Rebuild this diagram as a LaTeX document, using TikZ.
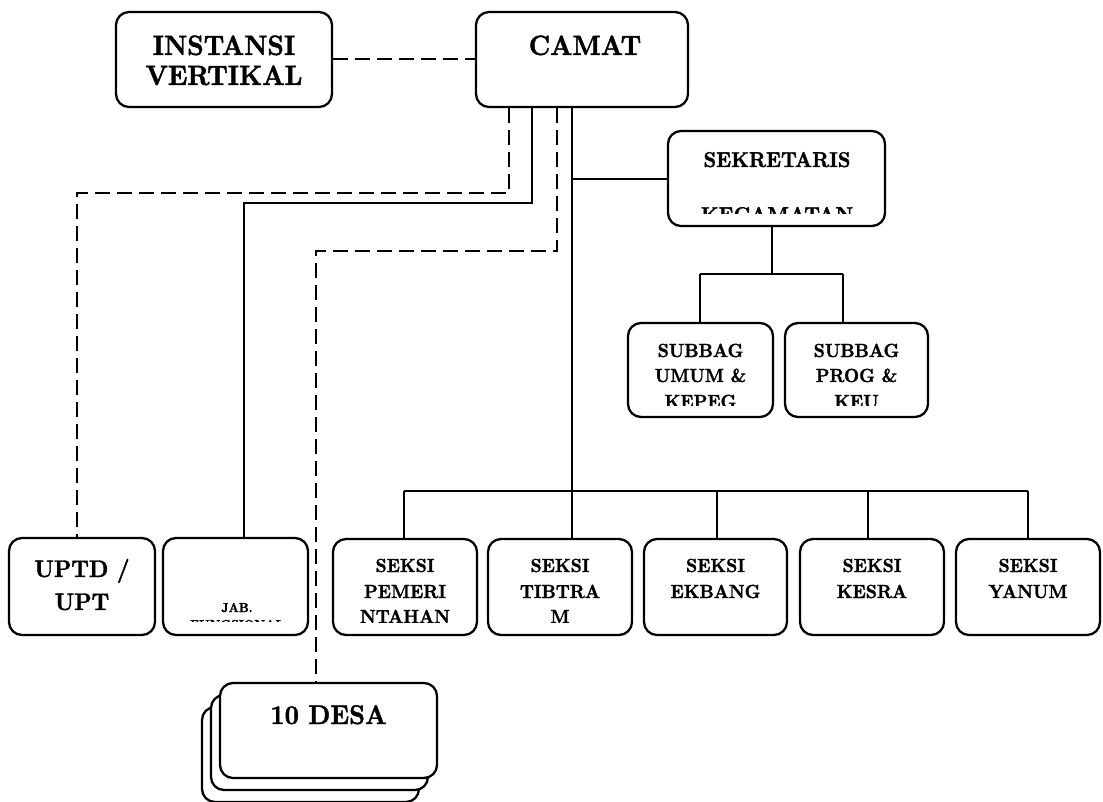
\documentclass[tikz,border=0pt]{standalone}
\usepackage{fontspec}
\newfontfamily\hv[FakeBold=1.5, FakeStretch=0.92]{lmroman10-bold.otf}
\begin{document}
\begin{tikzpicture}[x=1pt,y=-1pt]
\tikzset{
  box/.style={draw, rectangle, line width=2.3pt, rounded corners=13pt, inner sep=0pt, fill=white},
  conn/.style={line width=2pt},
  dl/.style={line width=2pt, dash pattern=on 15pt off 7pt},
  txt/.style={anchor=base, inner sep=0pt},
  bigt/.style={txt, font=\hv\fontsize{28}{30}\selectfont},
  upt/.style={txt, font=\hv\fontsize{24}{26}\selectfont},
  midt/.style={txt, font=\hv\fontsize{21.5}{24}\selectfont},
  smt/.style={txt, font=\hv\fontsize{19}{21}\selectfont},
  tinyt/.style={txt, font=\hv\fontsize{13}{14}\selectfont},
}
\useasboundingbox (0,0) rectangle (1103,802);
\fill[white] (0,0) rectangle (1103,802);

% boxes
\node[box, minimum width=216pt, minimum height=95pt] (inst) at (224,59.5) {};
\node[box, minimum width=212pt, minimum height=95pt] (camat) at (582,59.5) {};
\node[box, minimum width=217pt, minimum height=95pt] (sek) at (776.5,178.5) {};
\node[box, minimum width=145pt, minimum height=94pt] (sub1) at (700.5,370) {};
\node[box, minimum width=143pt, minimum height=94pt] (sub2) at (856.5,370) {};
\node[box, minimum width=146pt, minimum height=97pt] (upt) at (82,586.5) {};
\node[box, minimum width=145pt, minimum height=97pt] (jab) at (235.5,586.5) {};
\node[box, minimum width=144pt, minimum height=96pt] (s1) at (405,587) {};
\node[box, minimum width=144pt, minimum height=96pt] (s2) at (560,587) {};
\node[box, minimum width=143pt, minimum height=96pt] (s3) at (715.5,587) {};
\node[box, minimum width=144pt, minimum height=96pt] (s4) at (872,587) {};
\node[box, minimum width=144pt, minimum height=96pt] (s5) at (1028,587) {};
\node[box, minimum width=217pt, minimum height=95pt] (desa3) at (310.5,754.5) {};
\node[box, minimum width=217pt, minimum height=95pt] (desa2) at (319.5,742.5) {};
\node[box, minimum width=217pt, minimum height=95pt] (desa) at (328.5,730.5) {};

% connector bend points
\coordinate (a1) at (509,193); \coordinate (a2) at (77,193);
\coordinate (b1) at (532,203); \coordinate (b2) at (244,203);
\coordinate (c1) at (557,251); \coordinate (c2) at (316,251);
\coordinate (m1) at (572,179);
\coordinate (m2) at (572,491);
\coordinate (bl) at (404,491); \coordinate (br) at (1028,491);
\coordinate (k1) at (717,491); \coordinate (k2) at (868,491);
\coordinate (t0) at (772,274); \coordinate (tl) at (700,274); \coordinate (tr) at (843,274);

% connectors
\draw[dl] (inst.east) -- (camat.west);
\draw[dl] (camat.south -| a1) -- (a1) -- (a2) -- (upt.north -| a2);
\draw[conn] (camat.south -| b1) -- (b1) -- (b2) -- (jab.north -| b2);
\draw[dl] (camat.south -| c1) -- (c1) -- (c2) -- (desa.north -| c2);
\draw[conn] (camat.south -| m1) -- (m2);
\draw[conn] (m1) -- (sek.west |- m1);
\draw[conn] (sek.south -| t0) -- (t0);
\draw[conn] (tl) -- (tr);
\draw[conn] (tl) -- (sub1.north -| tl);
\draw[conn] (tr) -- (sub2.north -| tr);
\draw[conn] (bl) -- (br);
\draw[conn] (bl) -- (s1.north -| bl);
\draw[conn] (m2) -- (s2.north -| m2);
\draw[conn] (k1) -- (s3.north -| k1);
\draw[conn] (k2) -- (s4.north -| k2);
\draw[conn] (br) -- (s5.north -| br);

% texts
\node[bigt] (inst-l1) at (224,55) {INSTANSI};
\node[bigt] (inst-l2) at (224,85) {VERTIKAL};
\node[bigt] (camat-l1) at (585,55) {CAMAT};
\begin{scope}
  \clip (668,131) rectangle (885,214);
  \node[midt] (sek-l1) at (777,167) {SEKRETARIS};
  \node[midt] (sek-l2) at (777,222) {KECAMATAN};
\end{scope}
\begin{scope}
  \clip (628,323) rectangle (928,405);
  \node[smt] (sub1-l1) at (700.5,357) {SUBBAG};
  \node[smt] (sub1-l2) at (700.5,382) {UMUM \&};
  \node[smt] (sub1-l3) at (700.5,408) {KEPEG};
  \node[smt] (sub2-l1) at (856.5,357) {SUBBAG};
  \node[smt] (sub2-l2) at (856.5,382) {PROG \&};
  \node[smt] (sub2-l3) at (856.5,408) {KEU};
\end{scope}
\node[upt] (upt-l1) at (82,577) {UPTD /};
\node[upt] (upt-l2) at (82,610) {UPT};
\begin{scope}
  \clip (163,539) rectangle (308,621);
  \node[tinyt] (jab-l1) at (237,612) {JAB.};
  \node[tinyt] (jab-l2) at (237,629) {FUNGSIONAL};
\end{scope}
\begin{scope}
  \clip (333,539) rectangle (1100,622.5);
  \node[smt] (s1-l1) at (405,572) {SEKSI};
  \node[smt] (s1-l2) at (405,598) {PEMERI};
  \node[smt] (s1-l3) at (405,623) {NTAHAN};
  \node[smt] (s2-l1) at (560,572) {SEKSI};
  \node[smt] (s2-l2) at (560,598) {TIBTRA};
  \node[smt] (s2-l3) at (560,623) {M};
  \node[smt] (s3-l1) at (715.5,572) {SEKSI};
  \node[smt] (s3-l2) at (715.5,598) {EKBANG};
  \node[smt] (s4-l1) at (872,572) {SEKSI};
  \node[smt] (s4-l2) at (872,598) {KESRA};
  \node[smt] (s5-l1) at (1028,572) {SEKSI};
  \node[smt] (s5-l2) at (1028,598) {YANUM};
\end{scope}
\node[bigt, font=\hv\fontsize{27}{30}\selectfont] (desa-l1) at (328.5,724) {10 DESA};
\end{tikzpicture}
\end{document}
